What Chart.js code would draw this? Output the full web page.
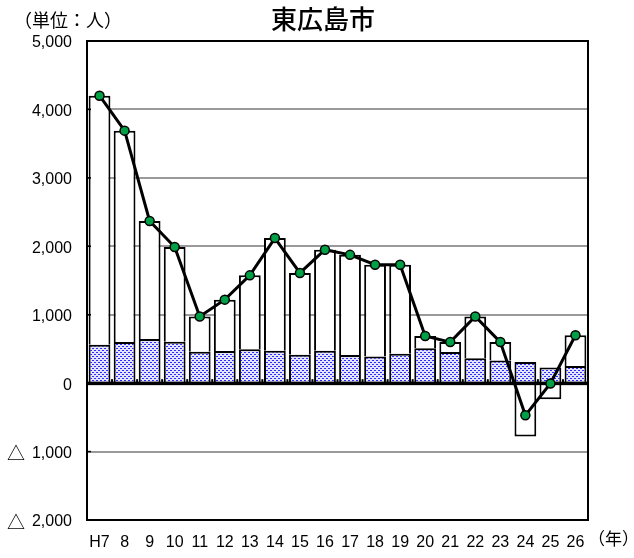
<!DOCTYPE html>
<html>
<head>
<meta charset="utf-8">
<script src="https://cdn.jsdelivr.net/npm/chart.js@4/dist/chart.umd.min.js"></script>
<style>
  html, body { margin: 0; padding: 0; background: #ffffff; }
  #wrap { width: 634px; height: 558px; }
</style>
</head>
<body>
<div id="wrap"><canvas id="c" width="634" height="558"></canvas></div>
<script>
// Population change of 東広島市 by year (persons)
const years = ['H7', '8', '9', '10', '11', '12', '13', '14', '15', '16',
               '17', '18', '19', '20', '21', '22', '23', '24', '25', '26'];
// natural change (births - deaths)
const naturalChange = [560, 600, 645, 605, 460, 470, 495, 475, 415, 475,
                       410, 390, 430, 510, 455, 365, 330, 310, 230, 250];
// social change (in-migration - out-migration)
const socialChange = [3640, 3090, 1725, 1385, 515, 750, 1080, 1645, 1195, 1475,
                      1465, 1340, 1300, 180, 145, 610, 270, -780, -235, 450];
// total change
const totalChange = [4200, 3690, 2370, 1990, 975, 1220, 1575, 2120, 1610, 1950,
                     1875, 1730, 1730, 690, 600, 975, 600, -470, -5, 700];
const yTicks = [5000, 4000, 3000, 2000, 1000, 0, -1000, -2000];

const titleText = '東広島市';
const unitText = '（単位：人）';
const yearText = '（年）';
const minusMark = '△';

// dotted fill for the natural-change bars
function dotPattern() {
  const p = document.createElement('canvas');
  p.width = 4; p.height = 4;
  const g = p.getContext('2d');
  g.fillStyle = '#e4e4ff';
  g.fillRect(0, 0, 4, 4);
  g.fillStyle = '#2c2cff';
  g.fillRect(0, 0, 2, 1);
  g.fillRect(2, 2, 2, 1);
  return g.createPattern(p, 'repeat');
}

const tickFont = { family: "'Liberation Sans', Arial, sans-serif", size: 16 };

const framePlugin = {
  id: 'frame',
  afterDatasetDraw(chart, args) {
    // zero line above the bars but under the total line
    if (args.index !== 0) return;
    const { ctx, chartArea: a, scales: { y } } = chart;
    const y0 = y.getPixelForValue(0);
    ctx.save();
    ctx.fillStyle = '#000';
    ctx.fillRect(a.left, y0 - 1.5, a.right - a.left, 3.5);
    // small marks at category boundaries on the zero line
    for (let i = 0; i <= years.length; i++) {
      const bx = a.left + (a.right - a.left) * i / years.length;
      ctx.fillRect(bx - 1, y0 - 4, 2, 4);
    }
    ctx.restore();
  },
  afterDraw(chart) {
    const { ctx, chartArea: a, scales: { y } } = chart;
    ctx.save();
    ctx.strokeStyle = '#000';
    ctx.lineWidth = 2;
    ctx.strokeRect(a.left, a.top, a.right - a.left, a.bottom - a.top);
    // inward tick marks on the value axis
    ctx.lineWidth = 1.5;
    yTicks.forEach(v => {
      const py = y.getPixelForValue(v);
      ctx.beginPath();
      ctx.moveTo(a.left, py);
      ctx.lineTo(a.left + 4, py);
      ctx.stroke();
    });
    ctx.fillStyle = '#000';
    ctx.textBaseline = 'middle';
    // triangle sign in front of negative values
    ctx.textAlign = 'center';
    ctx.font = "18px 'Noto Sans CJK JP', sans-serif";
    yTicks.filter(v => v < 0).forEach(v => {
      ctx.fillText(minusMark, 16, y.getPixelForValue(v) + 2);
    });
    ctx.font = "500 26px 'Noto Sans CJK JP', sans-serif";
    ctx.fillText(titleText, 323, 19);
    ctx.textAlign = 'left';
    ctx.font = "18px 'Noto Sans CJK JP', sans-serif";
    ctx.fillText(unitText, 14, 20);
    ctx.font = "17px 'Noto Sans CJK JP', sans-serif";
    ctx.fillText(yearText, 588, 539);
    ctx.restore();
  }
};

new Chart(document.getElementById('c'), {
  data: {
    labels: years,
    datasets: [
      {
        type: 'bar',
        label: '自然増減',
        data: naturalChange,
        backgroundColor: dotPattern(),
        borderColor: '#000',
        borderWidth: 2,
        stack: 'pop',
        order: 1,
        barPercentage: 0.87,
        categoryPercentage: 1
      },
      {
        type: 'bar',
        label: '社会増減',
        data: socialChange,
        backgroundColor: '#ffffff',
        borderColor: '#000',
        borderWidth: 2,
        stack: 'pop',
        order: 2,
        barPercentage: 0.87,
        categoryPercentage: 1
      },
      {
        type: 'line',
        label: '人口増減',
        data: totalChange,
        borderColor: '#000',
        borderWidth: 3,
        pointRadius: 4.5,
        pointBackgroundColor: '#00a046',
        pointBorderColor: '#000',
        pointBorderWidth: 1.5,
        tension: 0,
        stack: 'total',
        order: 0
      }
    ]
  },
  options: {
    responsive: false,
    animation: false,
    layout: { padding: { top: 41, right: 46, bottom: 0, left: 0 } },
    plugins: { legend: { display: false }, tooltip: { enabled: false }, title: { display: false } },
    scales: {
      x: {
        stacked: true,
        offset: true,
        grid: { display: false, drawTicks: false },
        border: { display: false },
        ticks: { color: '#000', font: tickFont, padding: 13, maxRotation: 0, autoSkip: false },
        afterFit(s) { s.height = 38; }
      },
      y: {
        stacked: true,
        min: -2000,
        max: 5000,
        afterBuildTicks(s) { s.ticks = yTicks.map(v => ({ value: v })); },
        grid: {
          drawTicks: false,
          lineWidth: 2,
          color: c => {
            const v = c.tick && c.tick.value;
            return (v === 0 || v === 5000 || v === -2000) ? 'rgba(0,0,0,0)' : '#9a9a9a';
          }
        },
        border: { display: false },
        ticks: {
          color: '#000',
          font: tickFont,
          padding: 15,
          labelOffset: 2,
          callback: v => Math.abs(v).toLocaleString('en-US')
        },
        afterFit(s) { s.width = 87; }
      }
    }
  },
  plugins: [framePlugin]
});
</script>
</body>
</html>
